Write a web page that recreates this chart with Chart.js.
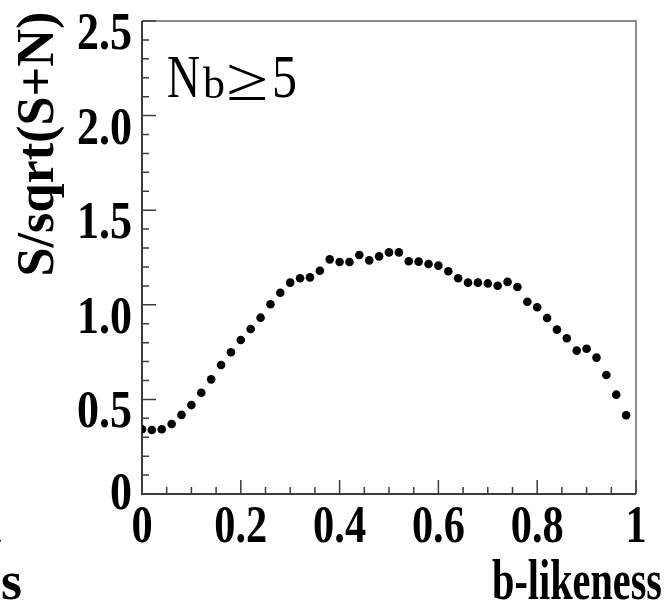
<!DOCTYPE html>
<html>
<head>
<meta charset="utf-8">
<script src="https://cdn.jsdelivr.net/npm/chart.js@4.4.1/dist/chart.umd.min.js"></script>
<style>
  html, body { margin: 0; padding: 0; background: #fff; }
  #wrap { width: 669px; height: 603px; }
</style>
</head>
<body>
<div id="wrap"><canvas id="sigChart"></canvas></div>
<script>
// bin positions (b-likeness) and S/sqrt(S+N)
const xValues = [0.00, 0.02, 0.04, 0.06, 0.08, 0.10, 0.12, 0.14, 0.16, 0.18,
                 0.20, 0.22, 0.24, 0.26, 0.28, 0.30, 0.32, 0.34, 0.36, 0.38,
                 0.40, 0.42, 0.44, 0.46, 0.48, 0.50, 0.52, 0.54, 0.56, 0.58,
                 0.60, 0.62, 0.64, 0.66, 0.68, 0.70, 0.72, 0.74, 0.76, 0.78,
                 0.80, 0.82, 0.84, 0.86, 0.88, 0.90, 0.92, 0.94, 0.96, 0.98];
const yValues = [0.342, 0.338, 0.342, 0.370, 0.418, 0.470, 0.535, 0.606, 0.682, 0.749,
                 0.814, 0.872, 0.932, 1.003, 1.064, 1.117, 1.140, 1.145, 1.180, 1.240,
                 1.226, 1.226, 1.263, 1.235, 1.256, 1.277, 1.277, 1.230, 1.228, 1.216,
                 1.207, 1.177, 1.140, 1.117, 1.117, 1.113, 1.101, 1.121, 1.094, 1.016,
                 0.987, 0.930, 0.869, 0.823, 0.758, 0.768, 0.721, 0.629, 0.525, 0.416];
const xTickLabels = ['0', '0.2', '0.4', '0.6', '0.8', '1'];
const yTickLabels = ['0', '0.5', '1.0', '1.5', '2.0', '2.5'];
const xTitle = 'b-likeness';
const yTitle = 'S/sqrt(S+N)';

const SERIF = '"Liberation Serif", "Times New Roman", serif';
const TICK_FONT = 'bold 53px ' + SERIF;

// draw a string, optionally squeezed horizontally (k) or to a width (w)
function fitText(ctx, str, font, x, y, w, align, k) {
    ctx.save();
    ctx.font = font;
    const nat = ctx.measureText(str).width;
    const s = w ? w / nat : (k || 1);
    ctx.translate(x, y);
    ctx.scale(s, 1);
    ctx.textAlign = align || 'left';
    ctx.textBaseline = 'alphabetic';
    ctx.fillText(str, 0, 0);
    ctx.restore();
}

// frame, inward tick marks and the text, ROOT style
const frameTicks = {
    id: 'frameTicks',
    beforeDatasetsDraw(chart) {
        const { ctx, chartArea: ca, scales } = chart;
        ctx.save();
        ctx.lineWidth = 2;
        ctx.strokeStyle = '#8e8e8e';
        ctx.beginPath();
        ctx.moveTo(ca.left, ca.top);
        ctx.lineTo(ca.right, ca.top);
        ctx.lineTo(ca.right, ca.bottom);
        ctx.stroke();

        ctx.strokeStyle = '#3c3c3c';
        ctx.beginPath();
        ctx.moveTo(ca.left, ca.top);
        ctx.lineTo(ca.left, ca.bottom);
        ctx.lineTo(ca.right, ca.bottom);
        ctx.stroke();

        ctx.lineWidth = 1.5;
        ctx.beginPath();
        for (let k = 0; k <= 25; k++) {
            const py = scales.y.getPixelForValue(k / 10);
            const len = k % 5 === 0 ? 14 : 7;
            ctx.moveTo(ca.left, py);
            ctx.lineTo(ca.left + len, py);
        }
        for (let k = 0; k <= 20; k++) {
            const px = scales.x.getPixelForValue(k / 20);
            const len = k % 4 === 0 ? 14 : 7;
            ctx.moveTo(px, ca.bottom);
            ctx.lineTo(px, ca.bottom - len);
        }
        ctx.stroke();
        ctx.restore();
    },
    afterDraw(chart) {
        const { ctx, chartArea: ca, scales } = chart;
        ctx.save();
        ctx.fillStyle = '#000';

        // tick labels, placed through the scales
        scales.x.ticks.forEach((t, i) => {
            fitText(ctx, xTickLabels[i], TICK_FONT, scales.x.getPixelForValue(t.value), ca.bottom + 48, 0, 'center', 0.8);
        });
        scales.y.ticks.forEach((t, i) => {
            const drop = t.value === 0 ? 15 : 28;
            fitText(ctx, yTickLabels[i], TICK_FONT, ca.left - 10, scales.y.getPixelForValue(t.value) + drop, 0, 'right', 0.83);
        });

        // axis titles
        ctx.save();
        ctx.translate(53, 144);
        ctx.rotate(-Math.PI / 2);
        fitText(ctx, yTitle, 'bold 52px ' + SERIF, 0, 0, 265, 'center');
        ctx.restore();
        fitText(ctx, xTitle, 'bold 57px ' + SERIF, 662, 599, 170, 'right');

        // pieces of the neighbouring panel cut by the frame
        fitText(ctx, xTitle, 'bold 54px ' + SERIF, 22, 599, 0, 'right');
        fitText(ctx, '1', TICK_FONT, 3, 542, 0, 'right', 0.8);

        // N_b >= 5
        fitText(ctx, 'N', '62px ' + SERIF, 167, 97, 33);
        fitText(ctx, 'b', '45px ' + SERIF, 203, 98, 22);
        fitText(ctx, '\u2265', '62px ' + SERIF, 226, 100, 42);
        fitText(ctx, '5', '62px ' + SERIF, 272, 97, 25);
        ctx.restore();
    }
};

new Chart(document.getElementById('sigChart'), {
    type: 'scatter',
    data: {
        datasets: [{
            data: xValues.map((x, i) => ({ x: x, y: yValues[i] })),
            backgroundColor: '#000',
            borderWidth: 0,
            pointRadius: 4.3,
            pointHoverRadius: 4.3
        }]
    },
    options: {
        responsive: true,
        maintainAspectRatio: false,
        animation: false,
        layout: { padding: { left: 0, top: 21, right: 33, bottom: 0 } },
        plugins: {
            legend: { display: false },
            tooltip: { enabled: false }
        },
        scales: {
            x: {
                type: 'linear',
                min: 0,
                max: 1,
                afterFit(s) { s.height = 109; },
                grid: { display: false, drawTicks: false },
                border: { display: false },
                ticks: { stepSize: 0.2, autoSkip: false, maxRotation: 0, display: false }
            },
            y: {
                min: 0,
                max: 2.5,
                afterFit(s) { s.width = 142; },
                grid: { display: false, drawTicks: false },
                border: { display: false },
                ticks: { stepSize: 0.5, display: false }
            }
        }
    },
    plugins: [frameTicks]
});
</script>
</body>
</html>
